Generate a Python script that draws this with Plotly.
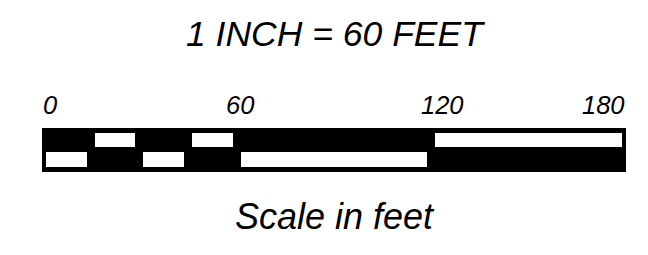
import plotly.graph_objects as go

# Scale bar data (feet)
scale_total = 180
tick_values = [0, 60, 120, 180]
tick_labels = ["0", "60", "120", "180"]

seg_starts = [0, 30, 60, 15, 45, 120]
seg_ends = [15, 45, 120, 30, 60, 180]
seg_rows = [0, 0, 0, 1, 1, 1]

title_text = "1 INCH = 60 FEET"
caption_text = "Scale in feet"

# style
FONT = "Liberation Sans, Arial, sans-serif"
label_xshift = [8, 3, 11, -23]
row_center = {0: 0.57, 1: 1.45}
row_height = {0: 0.68, 1: 0.64}
inset = 1.2

fig = go.Figure()

# black background bar
fig.add_trace(go.Bar(
    x=[scale_total], base=[0], y=[1.0], width=[2.0], orientation="h",
    marker=dict(color="black", line=dict(width=0)), hoverinfo="skip",
))

# white alternating segments
fig.add_trace(go.Bar(
    x=[e - s - 2 * inset for s, e in zip(seg_starts, seg_ends)],
    base=[s + inset for s in seg_starts],
    y=[row_center[r] for r in seg_rows],
    width=[row_height[r] for r in seg_rows],
    orientation="h",
    marker=dict(color="white", line=dict(width=0)), hoverinfo="skip",
))

annotations = []
for v, t, sh in zip(tick_values, tick_labels, label_xshift):
    annotations.append(dict(
        x=v, y=1.53, xref="x", yref="paper", text=t, showarrow=False,
        xanchor="center", yanchor="middle", xshift=sh,
        font=dict(family=FONT, size=25.5, color="black", style="italic"),
    ))
annotations.append(dict(
    x=0.503, y=3.14, xref="paper", yref="paper", text=title_text, showarrow=False,
    xanchor="center", yanchor="middle",
    font=dict(family=FONT, size=35.5, color="black", style="italic"),
))
annotations.append(dict(
    x=0.501, y=-1.0, xref="paper", yref="paper", text=caption_text, showarrow=False,
    xanchor="center", yanchor="middle",
    font=dict(family=FONT, size=36, color="black", style="italic"),
))

fig.update_layout(
    width=648, height=255,
    margin=dict(l=34, r=30, t=120, b=91),
    paper_bgcolor="white", plot_bgcolor="white",
    showlegend=False, barmode="overlay", bargap=0,
    xaxis=dict(range=[0, scale_total], visible=False, fixedrange=True),
    yaxis=dict(range=[0, 2], visible=False, fixedrange=True),
    annotations=annotations,
)

fig.write_html("out.html")
